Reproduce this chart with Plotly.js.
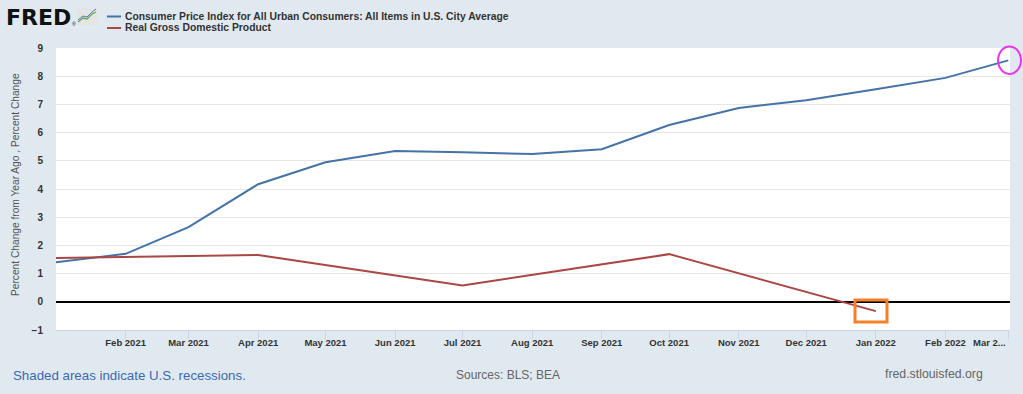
<!DOCTYPE html>
<html>
<head>
<meta charset="utf-8">
<script src="https://cdn.plot.ly/plotly-3.0.1.min.js"></script>
<style>html,body{margin:0;padding:0;background:#e1e9f0;}#chart{width:1023px;height:394px;}</style>
</head>
<body>
<div id="chart"></div>
<script>
// ---- data ----
const cpiName = "Consumer Price Index for All Urban Consumers: All Items in U.S. City Average";
const gdpName = "Real Gross Domestic Product";
const cpiDates = ["2021-01-01","2021-02-01","2021-03-01","2021-04-01","2021-05-01","2021-06-01","2021-07-01","2021-08-01","2021-09-01","2021-10-01","2021-11-01","2021-12-01","2022-01-01","2022-02-01","2022-03-01"];
const cpiValues = [1.4, 1.7, 2.65, 4.17, 4.95, 5.35, 5.3, 5.24, 5.41, 6.27, 6.87, 7.15, 7.54, 7.94, 8.56];
const gdpDates = ["2021-01-01","2021-04-01","2021-07-01","2021-10-01","2022-01-01"];
const gdpValues = [1.55, 1.66, 0.58, 1.69, -0.33];
const tickDates = ["2021-02-01","2021-03-01","2021-04-01","2021-05-01","2021-06-01","2021-07-01","2021-08-01","2021-09-01","2021-10-01","2021-11-01","2021-12-01","2022-01-01","2022-02-01","2022-03-01"];
const tickLabels = ["Feb 2021","Mar 2021","Apr 2021","May 2021","Jun 2021","Jul 2021","Aug 2021","Sep 2021","Oct 2021","Nov 2021","Dec 2021","Jan 2022","Feb 2022","Mar 2..."];
const yTicks = [-1,0,1,2,3,4,5,6,7,8,9];
const yAxisTitle = "Percent Change from Year Ago , Percent Change";
const footerLeft = "Shaded areas indicate U.S. recessions.";
const footerMid = "Sources: BLS; BEA";
const footerRight = "fred.stlouisfed.org";

const cpiColor = "#4572a7", gdpColor = "#aa4643";
const W = 1023, H = 394, ML = 56, MR = 13, MT = 48, MB = 64;
const PW = W - ML - MR, PH = H - MT - MB;
const px = x => (x - ML) / PW;
const py = y => (H - MB - y) / PH;

const traces = [
  {x: cpiDates, y: cpiValues, name: cpiName, type: "scatter", mode: "lines", line: {color: cpiColor, width: 2}, cliponaxis: false},
  {x: gdpDates, y: gdpValues, name: gdpName, type: "scatter", mode: "lines", line: {color: gdpColor, width: 2}, cliponaxis: false}
];

const font = "Liberation Sans, Arial, sans-serif";
const tickFont = {family: font, size: 9.5, color: "#333", weight: "bold"};
const lastIdx = tickLabels.length - 1;
const axisText = tickLabels.map((t, i) => i === lastIdx ? "" : t);

const shapes = [
  // legend glyphs
  {type: "line", xref: "paper", yref: "paper", x0: px(107), x1: px(121), y0: py(16.5), y1: py(16.5), line: {color: cpiColor, width: 2}},
  {type: "line", xref: "paper", yref: "paper", x0: px(107), x1: px(121), y0: py(28), y1: py(28), line: {color: gdpColor, width: 2}},
  // logo icon
  {type: "rect", xref: "paper", yref: "paper", x0: px(77), x1: px(97), y0: py(25), y1: py(8), fillcolor: "#e4e4e4", line: {width: 0}},
  {type: "path", xref: "paper", yref: "paper", path: `M${px(78)},${py(20)} L${px(83)},${py(16)} L${px(87)},${py(17)} L${px(92)},${py(12)} L${px(96)},${py(9)}`, line: {color: "#4a7cc0", width: 1}},
  {type: "path", xref: "paper", yref: "paper", path: `M${px(78)},${py(22)} L${px(83)},${py(18)} L${px(87)},${py(19)} L${px(92)},${py(14)} L${px(96)},${py(12)}`, line: {color: "#6aa84f", width: 1.3}},
  // highlight marks
  {type: "rect", xref: "paper", yref: "paper", x0: px(855), x1: px(887), y0: py(322), y1: py(300), line: {color: "#f5822a", width: 3}},
  {type: "circle", xref: "paper", yref: "paper", x0: px(998), x1: px(1021), y0: py(74), y1: py(46.5), line: {color: "#ee33ee", width: 2}}
];

const annotations = [
  {xref: "paper", yref: "paper", x: px(4), y: py(17), xanchor: "left", yanchor: "middle", text: "<b>FRED</b>", showarrow: false, font: {family: "DejaVu Sans, sans-serif", size: 22, color: "#111", weight: "bold"}},
  {xref: "paper", yref: "paper", x: px(70), y: py(24), xanchor: "left", yanchor: "middle", text: "®", showarrow: false, font: {family: font, size: 5, color: "#111"}},
  {xref: "paper", yref: "paper", x: px(123), y: py(16.5), xanchor: "left", yanchor: "middle", text: "<b>" + cpiName + "</b>", showarrow: false, font: {family: font, size: 10.35, color: "#333"}},
  {xref: "paper", yref: "paper", x: px(123), y: py(28), xanchor: "left", yanchor: "middle", text: "<b>" + gdpName + "</b>", showarrow: false, font: {family: font, size: 10.35, color: "#333"}},
  {xref: "paper", yref: "paper", x: px(15), y: py(185), xanchor: "center", yanchor: "middle", textangle: -90, text: yAxisTitle, showarrow: false, font: {family: font, size: 10.2, color: "#555"}},
  {xref: "paper", yref: "paper", x: px(11), y: py(375), xanchor: "left", yanchor: "middle", text: footerLeft, showarrow: false, font: {family: font, size: 13.3, color: "#3a6ab0"}},
  {xref: "paper", yref: "paper", x: px(508), y: py(375), xanchor: "center", yanchor: "middle", text: footerMid, showarrow: false, font: {family: font, size: 12, color: "#666"}},
  {xref: "paper", yref: "paper", x: px(985), y: py(374), xanchor: "right", yanchor: "middle", text: footerRight, showarrow: false, font: {family: font, size: 12.3, color: "#666"}},
  // last x tick label, pushed inside like the original
  {xref: "x", yref: "paper", x: tickDates[lastIdx], y: py(342.5), xanchor: "right", yanchor: "middle", text: tickLabels[lastIdx], showarrow: false, font: tickFont}
];

const layout = {
  width: W, height: H,
  margin: {l: ML, r: MR, t: MT, b: MB, pad: 0},
  paper_bgcolor: "#e1e9f0", plot_bgcolor: "#ffffff",
  showlegend: false,
  font: {family: font},
  xaxis: {
    type: "date", range: ["2021-01-01", "2022-03-01 18:00"],
    tickmode: "array", tickvals: tickDates, ticktext: axisText,
    ticks: "outside", ticklen: 8, tickcolor: "#ccd6eb", tickwidth: 1,
    ticklabelstandoff: -4,
    showgrid: false, showline: true, linecolor: "#ccd6eb", linewidth: 1,
    tickfont: tickFont,
    zeroline: false, fixedrange: true
  },
  yaxis: {
    range: [-1, 9], tickmode: "array", tickvals: yTicks,
    showgrid: true, gridcolor: "#e6e6e6", gridwidth: 1,
    zeroline: true, zerolinecolor: "#000", zerolinewidth: 2,
    ticks: "", ticklabelstandoff: 12,
    tickfont: {family: font, size: 10, color: "#333", weight: "bold"},
    showline: false, fixedrange: true
  },
  shapes: shapes,
  annotations: annotations
};

Plotly.newPlot("chart", traces, layout, {displayModeBar: false, staticPlot: true});
</script>
</body>
</html>
